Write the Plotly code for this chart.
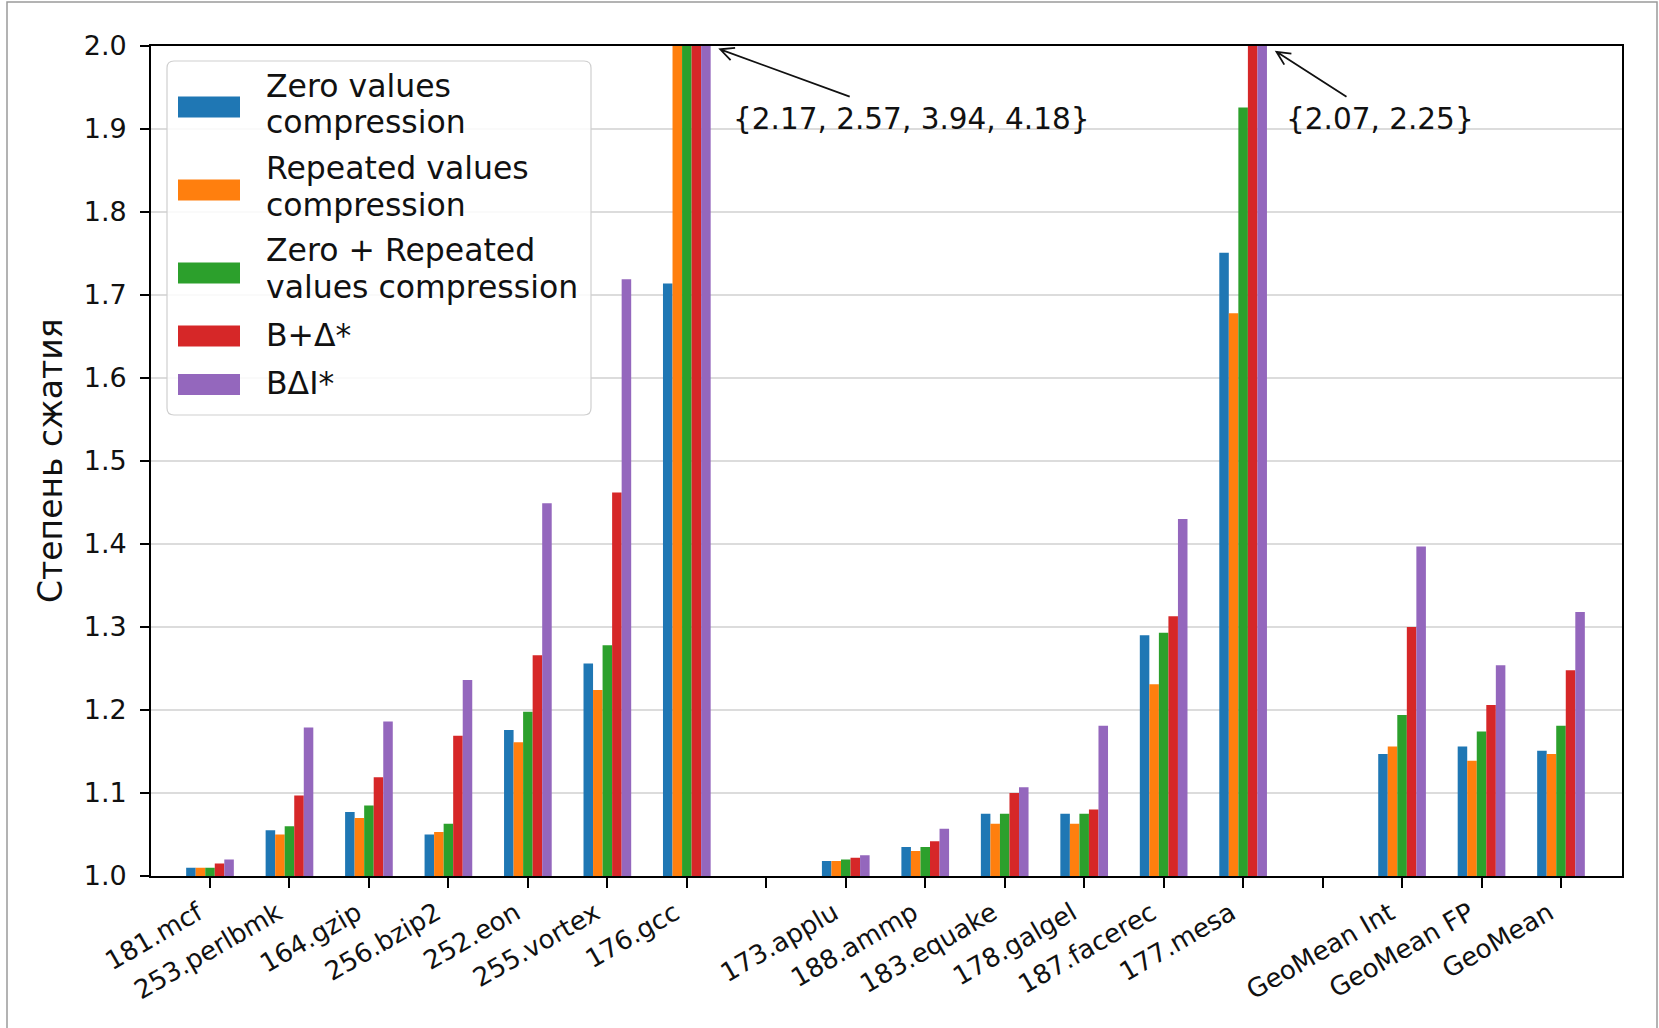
import numpy as np
import plotly.graph_objects as go

# ---- data -------------------------------------------------------------
categories = ["181.mcf", "253.perlbmk", "164.gzip", "256.bzip2", "252.eon",
              "255.vortex", "176.gcc", "", "173.applu", "188.ammp",
              "183.equake", "178.galgel", "187.facerec", "177.mesa", "",
              "GeoMean Int", "GeoMean FP", "GeoMean"]

zero_vals = [1.010, 1.055, 1.077, 1.050, 1.176, 1.256, 1.714, None,
             1.018, 1.035, 1.075, 1.075, 1.290, 1.751, None,
             1.147, 1.156, 1.151]
repeated_vals = [1.010, 1.050, 1.070, 1.053, 1.161, 1.224, 2.17, None,
                 1.018, 1.030, 1.063, 1.063, 1.231, 1.678, None,
                 1.156, 1.139, 1.147]
zero_repeated_vals = [1.010, 1.060, 1.085, 1.063, 1.198, 1.278, 2.57, None,
                      1.020, 1.035, 1.075, 1.075, 1.293, 1.926, None,
                      1.194, 1.174, 1.181]
bdelta_vals = [1.015, 1.097, 1.119, 1.169, 1.266, 1.462, 3.94, None,
               1.022, 1.042, 1.100, 1.080, 1.313, 2.07, None,
               1.300, 1.206, 1.248]
bdi_vals = [1.020, 1.179, 1.186, 1.236, 1.449, 1.719, 4.18, None,
            1.025, 1.057, 1.107, 1.181, 1.430, 2.25, None,
            1.397, 1.254, 1.318]

series = [zero_vals, repeated_vals, zero_repeated_vals, bdelta_vals, bdi_vals]
legend_lines = [["Zero values", "compression"],
                ["Repeated values", "compression"],
                ["Zero + Repeated", "values compression"],
                ["B+\u0394*"],
                ["B\u0394I*"]]
colors = ["#1f77b4", "#ff7f0e", "#2ca02c", "#d62728", "#9467bd"]

y_ticks = [1.0, 1.1, 1.2, 1.3, 1.4, 1.5, 1.6, 1.7, 1.8, 1.9, 2.0]
y_title = "Степень сжатия"
Y_MIN, Y_MAX = 1.0, 2.0

# ---- page geometry (pixels) -------------------------------------------
W, H = 1659, 1028
PL, PR, PT, PB = 151, 1622, 46, 876
FONT = "DejaVu Sans"


def fx(px):
    return (px - PL) / (PR - PL)


def fy(py):
    return (PB - py) / (PB - PT)


x_pos = list(range(len(categories)))

fig = go.Figure()
for vals, lines, col in zip(series, legend_lines, colors):
    fig.add_trace(go.Bar(
        x=x_pos, y=vals, name=" ".join(lines),
        marker=dict(color=col, line=dict(width=0)),
        showlegend=False,
    ))

shapes = []
annotations = []

# figure frame
shapes.append(dict(type="rect", xref="paper", yref="paper",
                   x0=fx(7), x1=fx(1657), y0=fy(1040), y1=fy(2),
                   line=dict(color="#9a9a9a", width=1.5), layer="above"))

# ---- legend box ---------------------------------------------------------
lx0, lx1, ly0, ly1, r = 167, 591, 61, 415, 7
X0, X1, YT, YB = fx(lx0), fx(lx1), fy(ly0), fy(ly1)
rx, ry = r / (PR - PL), r / (PB - PT)
legend_path = (f"M {X0+rx},{YT} L {X1-rx},{YT} Q {X1},{YT} {X1},{YT-ry} "
               f"L {X1},{YB+ry} Q {X1},{YB} {X1-rx},{YB} L {X0+rx},{YB} "
               f"Q {X0},{YB} {X0},{YB+ry} L {X0},{YT-ry} Q {X0},{YT} {X0+rx},{YT} Z")
shapes.append(dict(type="path", xref="paper", yref="paper", path=legend_path,
                   fillcolor="rgba(255,255,255,0.85)",
                   line=dict(color="#cfcfcf", width=1.2), layer="above"))

patch_centers = [107, 190, 273, 336, 384.5]
text_baselines = [[96.7, 133], [179, 216], [261, 298], [346], [394]]
LEG_FS = 31.5
for col, pc, lines, bls in zip(colors, patch_centers, legend_lines, text_baselines):
    shapes.append(dict(type="rect", xref="paper", yref="paper",
                       x0=fx(178), x1=fx(240), y0=fy(pc + 10.5), y1=fy(pc - 10.5),
                       fillcolor=col, line=dict(width=0), layer="above"))
    for txt, bl in zip(lines, bls):
        annotations.append(dict(
            xref="paper", yref="paper", x=fx(264), y=fy(bl - 0.346 * LEG_FS),
            xanchor="left", yanchor="middle", text=txt, showarrow=False,
            font=dict(family=FONT, size=LEG_FS, color="#111111")))

# ---- callouts for bars that exceed the axis ----------------------------
ANN_FS = 29.5
callouts = [
    # (category index, tip x, tip y, text left x (data), tail offset px)
    (6, 6.42, 1.996, 6.55, (129.5, 47.4)),
    (13, 13.42, 1.993, 13.52, (70.0, 45.0)),
]
for idx, tipx, tipy, textx, (dx, dy) in callouts:
    over = [s[idx] for s in series if s[idx] is not None and s[idx] > Y_MAX]
    label = "{" + ", ".join(f"{v:.2f}" for v in over) + "}"
    annotations.append(dict(
        xref="x", yref="y", x=textx, y=1.9 + 0.346 * ANN_FS / (PB - PT) * (Y_MAX - Y_MIN),
        xanchor="left", yanchor="middle", text=label, showarrow=False,
        font=dict(family=FONT, size=ANN_FS, color="#111111")))
    # open "->" arrow: shaft plus two barbs, in pixel offsets from the tip
    n = np.hypot(dx, dy)
    ux, uy = dx / n, -dy / n
    head, half = 15.0, np.deg2rad(26)
    barbs = []
    for a in (half, -half):
        bx = head * (ux * np.cos(a) - uy * np.sin(a))
        by = head * (ux * np.sin(a) + uy * np.cos(a))
        barbs.append((bx, by))
    path = (f"M {dx},{-dy} L 0,0 M {barbs[0][0]:.2f},{barbs[0][1]:.2f} L 0,0 "
            f"L {barbs[1][0]:.2f},{barbs[1][1]:.2f}")
    shapes.append(dict(type="path", xref="x", yref="y",
                       xsizemode="pixel", ysizemode="pixel",
                       xanchor=tipx, yanchor=tipy, path=path,
                       line=dict(color="#111111", width=1.8), layer="above"))

# y-axis title
annotations.append(dict(xref="paper", yref="paper", x=fx(50), y=fy(461),
                        xanchor="center", yanchor="middle", textangle=-90,
                        text=y_title, showarrow=False,
                        font=dict(family=FONT, size=33, color="#111111")))

tick_spacing = (1561 - 210) / 17.0
x_lo = (PL - 210) / tick_spacing
x_hi = 17 + (PR - 1561) / tick_spacing

fig.update_layout(
    width=W, height=H,
    margin=dict(l=PL, r=W - PR, t=PT, b=H - PB, pad=0),
    paper_bgcolor="white", plot_bgcolor="white",
    barmode="group", bargap=0.40, bargroupgap=0.0,
    font=dict(family=FONT, color="#111111"),
    shapes=shapes, annotations=annotations,
    showlegend=False,
    xaxis=dict(
        range=[x_lo, x_hi], tickmode="array", tickvals=x_pos, ticktext=categories,
        tickangle=-30, tickfont=dict(family=FONT, size=26, color="#111111"),
        ticks="outside", ticklen=10, tickwidth=1.5, tickcolor="black",
        ticklabelshift=-12,
        showline=True, linecolor="black", linewidth=1.8, mirror=True,
        showgrid=False, zeroline=False,
    ),
    yaxis=dict(
        range=[Y_MIN, Y_MAX], tickmode="array", tickvals=y_ticks,
        ticktext=[f"{v:.1f}" for v in y_ticks],
        tickfont=dict(family=FONT, size=27, color="#111111"),
        ticks="outside", ticklen=9, tickwidth=1.5, tickcolor="black",
        ticklabelstandoff=8,
        showline=True, linecolor="black", linewidth=1.8, mirror=True,
        showgrid=True, gridcolor="#dcdcdc", gridwidth=1.6, zeroline=False,
    ),
)

fig.write_html("out.html")
